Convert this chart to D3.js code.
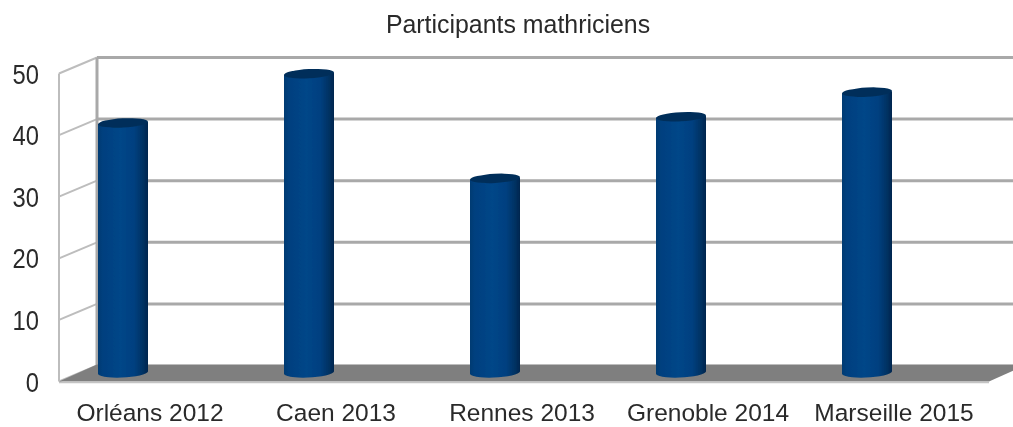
<!DOCTYPE html>
<html>
<head>
<meta charset="utf-8">
<script src="https://d3js.org/d3.v7.min.js"></script>
<style>
html, body { margin: 0; padding: 0; background: #fff; }
svg { display: block; }
text { font-family: "Liberation Sans", sans-serif; fill: #2a2a2a; }
</style>
</head>
<body>
<svg id="main_svg"></svg>
<script>
const WIDTH = 1013;
const HEIGHT = 427;

const categories = ['Orléans 2012', 'Caen 2013', 'Rennes 2013', 'Grenoble 2014', 'Marseille 2015'];
const values = [41, 49, 32, 42, 46];
const y_ticks = [0, 10, 20, 30, 40, 50];
const chart_title = 'Participants mathriciens';

// 3D box offset between the front edge and the back wall
const DEPTH_X = 38;
const DEPTH_Y = -16;
const FRONT_LEFT = 59;
const FRONT_RIGHT = 989;
const BAR_SHIFT = -27;
const BAR_WIDTH = 50;

const svg = d3.select('#main_svg').attr('width', WIDTH).attr('height', HEIGHT);
const defs = svg.append('defs');

defs.append('filter').attr('id', 'soft')
	.attr('filterUnits', 'userSpaceOnUse')
	.attr('x', 0).attr('y', 0).attr('width', WIDTH).attr('height', HEIGHT)
	.append('feGaussianBlur').attr('stdDeviation', 0.7);

const grad = defs.append('linearGradient').attr('id', 'cyl');
[[0, '#003a72'], [0.1, '#00407f'], [0.45, '#004688'], [0.72, '#004080'], [0.9, '#003263'], [1, '#00264e']]
	.forEach(d => grad.append('stop').attr('offset', d[0]).attr('stop-color', d[1]));

const root = svg.append('g').attr('filter', 'url(#soft)');

const x_scale = d3.scaleBand().domain(categories).range([FRONT_LEFT - 2, FRONT_RIGHT - 2]);
const y_scale = d3.scaleLinear().domain([0, 50]).range([381.5, 73.5]);

const wall_color = '#a9a9a9';
const side_color = '#bdbdbd';

// side wall diagonals and back wall lines
root.selectAll('.side')
	.data(y_ticks)
	.enter()
	.append('line')
	.attr('class', 'side')
	.attr('x1', FRONT_LEFT)
	.attr('x2', FRONT_LEFT + DEPTH_X)
	.attr('y1', d => y_scale(d))
	.attr('y2', d => y_scale(d) + DEPTH_Y)
	.attr('stroke', side_color)
	.attr('stroke-width', 2);

root.selectAll('.grid')
	.data(y_ticks.filter(d => d > 0))
	.enter()
	.append('line')
	.attr('class', 'grid')
	.attr('x1', FRONT_LEFT + DEPTH_X)
	.attr('x2', WIDTH)
	.attr('y1', d => y_scale(d) + DEPTH_Y)
	.attr('y2', d => y_scale(d) + DEPTH_Y)
	.attr('stroke', wall_color)
	.attr('stroke-width', 3);

root.append('line')
	.attr('x1', FRONT_LEFT).attr('x2', FRONT_LEFT)
	.attr('y1', y_scale(50)).attr('y2', y_scale(0))
	.attr('stroke', side_color).attr('stroke-width', 2);

root.append('line')
	.attr('x1', FRONT_LEFT + DEPTH_X).attr('x2', FRONT_LEFT + DEPTH_X)
	.attr('y1', y_scale(50) + DEPTH_Y).attr('y2', y_scale(0) + DEPTH_Y)
	.attr('stroke', wall_color).attr('stroke-width', 3);

// floor
root.append('path')
	.attr('d', d3.line()([
		[FRONT_LEFT + DEPTH_X, y_scale(0) + DEPTH_Y - 1],
		[FRONT_RIGHT + DEPTH_X, y_scale(0) + DEPTH_Y - 1],
		[FRONT_RIGHT, y_scale(0)],
		[FRONT_LEFT, y_scale(0)]
	]) + 'Z')
	.attr('fill', '#7f7f7f');

root.append('line')
	.attr('x1', FRONT_LEFT).attr('x2', FRONT_RIGHT)
	.attr('y1', y_scale(0) + 1).attr('y2', y_scale(0) + 1)
	.attr('stroke', '#c4c4c4').attr('stroke-width', 1.5);

// cylinders
const bars = root.selectAll('.bar')
	.data(categories.map((c, i) => ({ c: c, v: values[i] })))
	.enter()
	.append('g')
	.attr('class', 'bar')
	.attr('transform', d => `translate(${x_scale(d.c) + x_scale.bandwidth() / 2 + BAR_SHIFT},0)`);

bars.append('path')
	.attr('d', d => {
		const top = y_scale(d.v) - 5;
		const bottom = y_scale(0) - 8;
		const r = BAR_WIDTH / 2;
		return `M${-r},${top}L${-r},${bottom}A${r},5 -3 0 0 ${r},${bottom - 2}L${r},${top - 2}Z`;
	})
	.attr('fill', 'url(#cyl)');

bars.append('ellipse')
	.attr('cx', 0)
	.attr('cy', d => y_scale(d.v) - 6)
	.attr('rx', BAR_WIDTH / 2)
	.attr('ry', 4.6)
	.attr('transform', d => `rotate(-3,0,${y_scale(d.v) - 6})`)
	.attr('fill', '#002f5a');

// axis labels, the tall narrow digits come from a squeezed larger font
const y_axis = root.append('g')
	.attr('transform', `translate(${FRONT_LEFT - 20},1)`)
	.call(d3.axisLeft(y_scale).tickValues(y_ticks).tickSize(0).tickPadding(0));
y_axis.select('.domain').remove();
y_axis.selectAll('text')
	.attr('font-size', 27)
	.attr('font-family', '"Liberation Sans", sans-serif')
	.attr('transform', 'scale(0.88,1)');

const x_axis = root.append('g')
	.attr('transform', 'translate(0,404)')
	.call(d3.axisBottom(x_scale).tickSize(0).tickPadding(0));
x_axis.select('.domain').remove();
x_axis.selectAll('text').attr('font-size', 24.5).attr('font-family', '"Liberation Sans", sans-serif');

root.append('text')
	.attr('x', 518)
	.attr('y', 33)
	.attr('text-anchor', 'middle')
	.attr('font-size', 24.9)
	.text(chart_title);
</script>
</body>
</html>
